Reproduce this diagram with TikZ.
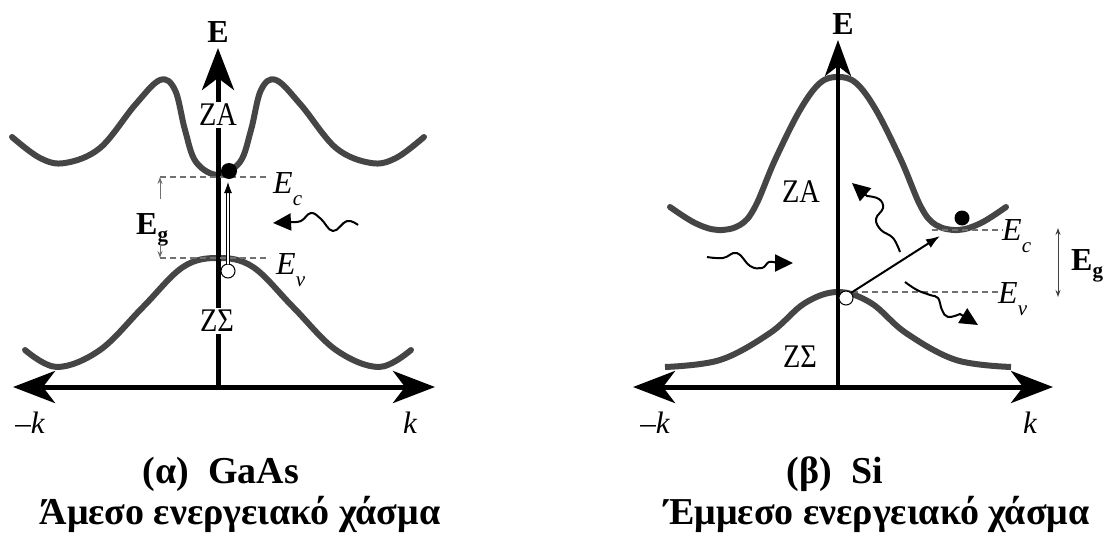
\documentclass[tikz,border=0pt]{standalone}
\usepackage{fontspec}
\setmainfont{Liberation Serif}
\newfontfamily\condserif{Liberation Serif}[FakeStretch=0.86]
\usetikzlibrary{arrows.meta}
\definecolor{bandgray}{HTML}{454545}
\definecolor{dashgray}{HTML}{707070}
\tikzset{
  bandline/.style={draw=bandgray, line width=6pt, line cap=round},
  axisline/.style={draw=black, line width=5pt},
  bigtip/.style={-{Stealth[length=42pt,width=32pt,inset=12pt]}},
  bothtips/.style={{Stealth[length=42pt,width=32pt,inset=12pt]}-{Stealth[length=42pt,width=32pt,inset=12pt]}},
  lbl/.style={inner sep=0pt, font=\fontsize{32}{38}\selectfont},
  zlbl/.style={inner sep=0pt, font=\condserif\fontsize{33}{38}\selectfont},
  wlbl/.style={zlbl, fill=white, inner sep=2pt},
  itlbl/.style={inner sep=0pt, font=\fontsize{32}{38}\selectfont\itshape},
  bflbl/.style={inner sep=0pt, font=\fontsize{32}{38}\selectfont\bfseries},
  captext/.style={inner sep=0pt, font=\fontsize{38}{44}\selectfont\bfseries},
  gapdash/.style={draw=dashgray, line width=1.3pt, dash pattern=on 6pt off 4pt},
  egarrow/.style={draw=dashgray, line width=1pt, -{Stealth[length=7pt,width=5pt]}},
  photon/.style={draw=black, line width=2pt, -{Triangle[length=18pt,width=17pt]}},
  transit/.style={draw=black, line width=2pt, -{Latex[length=14pt,width=10pt]}},
  electron/.style={circle, fill=black, inner sep=0pt, minimum size=16pt},
  hole/.style={circle, draw=black, fill=white, line width=1pt, inner sep=0pt, minimum size=14pt},
}
\newcommand{\subl}[1]{\raisebox{-0.4em}{\fontsize{21}{21}\selectfont #1}}
\newcommand{\subg}[1]{\raisebox{-0.22em}{\fontsize{21}{21}\selectfont #1}}
\begin{document}
\begin{tikzpicture}[x=1pt,y=-1pt]
\useasboundingbox (0,0) rectangle (1111,538);

% ================= LEFT PANEL (GaAs) =================
\coordinate (Lo) at (218,387);
\coordinate (Ltop) at (218,48);
\coordinate (Lkl) at (13,387);
\coordinate (Lkr) at (435,387);

% bands
\draw[bandline] plot[smooth, tension=0.6] coordinates {
 (12,137) (40,158) (65,163) (100,148) (135,105) (160,80) (175,90) (185,130)
 (196,162) (218,175) (240,162) (251,130) (261,90) (276,80) (301,105) (336,148)
 (371,163) (396,158) (424,137)};
\draw[bandline] plot[smooth, tension=0.6] coordinates {
 (25,350) (57,367) (100,350) (143,307) (183,267) (218,258) (253,267) (293,307)
 (336,350) (379,367) (411,350)};

% axes
\draw[axisline, bigtip] (Lo) -- (Ltop);
\draw[axisline, bothtips] (Lkl) -- (Lkr);

% labels on axis
\node[wlbl] (LZA) at (218,115) {ZA};
\node[wlbl] (LZS) at (217,321) {ZΣ};
\node[bflbl] (LE) at (218,32) {E};
\node[itlbl, font=\fontsize{31}{36}\selectfont\itshape] (Lmk) at (30,423) {–k};
\node[itlbl, font=\fontsize{31}{36}\selectfont\itshape] (Lk) at (410,423) {k};

% gap levels
\coordinate (LEcl) at (160,177);
\coordinate (LEcr) at (270,177);
\coordinate (LEvl) at (160,258);
\coordinate (LEvr) at (270,258);
\draw[gapdash] (LEcl) -- (LEcr);
\draw[gapdash] (LEvl) -- (LEvr);
\node[itlbl, anchor=base west] (LEc) at (273,193) {E\subl{c}};
\node[itlbl, anchor=base west] (LEv) at (276,274) {E\subl{v}};

% Eg
\node[bflbl, anchor=base west] (LEg) at (136,234) {E\subg{g}};
\coordinate (LEgt) at (160,199);
\coordinate (LEgb) at (160,244);
\draw[egarrow] (LEgt) -- (LEcl);
\draw[egarrow] (LEgb) -- (LEvl);

% carriers and transition
\node[electron] (Lel) at (229,171) {};
\node[hole] (Lho) at (228,271) {};
\coordinate (Ltrtop) at (228,182);
\draw[line width=0.9pt, double=white, double distance=2.2pt, -{Latex[length=11pt,width=8pt]}] (Lho.north) -- (Ltrtop);

% photon
\coordinate (Lph0) at (358,225);
\coordinate (Lph1) at (273,223);
\draw[photon] plot[smooth, tension=0.7] coordinates {(Lph0) (347,221) (333,231) (321,219) (311,213) (301,221) (291,222)} -- (Lph1);

% captions
\node[captext] (Lcap1) at (221,474) {(α)\ \ GaAs};
\node[captext] (Lcap2) at (240,514) {Άμεσο ενεργειακό χάσμα};

% ================= RIGHT PANEL (Si) =================
\coordinate (Ro) at (838,387);
\coordinate (Rtop) at (838,40);
\coordinate (Rkl) at (633,387);
\coordinate (Rkr) at (1053,387);

\draw[bandline] plot[smooth, tension=0.6] coordinates {
 (670,207) (695,223) (718,230) (740,225) (755,207) (775,160) (800,110) (820,83)
 (838,77) (856,83) (876,110) (901,160) (921,207) (936,225) (958,230) (981,223) (1006,207)};
\draw[bandline, line cap=butt] plot[smooth, tension=0.6] coordinates {
 (665,367) (720,360) (770,333) (805,303) (838,292) (871,303) (906,333) (956,360) (1011,367)};

\draw[draw=black, line width=4pt, -{Stealth[length=36pt,width=26pt,inset=10pt]}] (Ro) -- (Rtop);
\draw[axisline, bothtips] (Rkl) -- (Rkr);

\node[bflbl] (RE) at (843,24) {E};
\node[zlbl] (RZA) at (801,192) {ZA};
\node[zlbl] (RZS) at (800,357) {ZΣ};
\node[itlbl, font=\fontsize{31}{36}\selectfont\itshape] (Rmk) at (655,423) {–k};
\node[itlbl, font=\fontsize{31}{36}\selectfont\itshape] (Rk) at (1030,423) {k};

\coordinate (REcl) at (932,230);
\coordinate (REcr) at (1003,230);
\coordinate (REvl) at (852,292);
\coordinate (REvr) at (998,292);
\draw[gapdash, line width=1.1pt] (REcl) -- (REcr);
\draw[gapdash, line width=1.1pt] (REvl) -- (REvr);
\node[itlbl, anchor=base west] (REc) at (1002,240) {E\subl{c}};
\node[itlbl, anchor=base west] (REv) at (998,303) {E\subl{v}};

\coordinate (REgt) at (1058,228);
\coordinate (REgb) at (1058,297);
\draw[draw=black!75, line width=1pt, {Stealth[length=7pt,width=5pt]}-{Stealth[length=7pt,width=5pt]}] (REgt) -- (REgb);
\node[bflbl, anchor=base west] (REg) at (1071,270) {E\subg{g}};

\node[electron, minimum size=15pt] (Rel) at (962,218) {};
\node[hole] (Rho) at (846,298) {};
\coordinate (Rtr) at (940,236);
\draw[transit] (Rho.north east) -- (Rtr);

% photons
\coordinate (Rp1s) at (707,257);
\coordinate (Rp1e) at (793,263);
\draw[photon] plot[smooth, tension=0.7] coordinates {(Rp1s) (723,258) (737,253) (750,266) (762,268) (769,262) (777,263)} -- (Rp1e);

\coordinate (Rp2s) at (900,252);
\coordinate (Rp2e) at (852,183);
\draw[photon] plot[smooth, tension=0.7] coordinates {(Rp2s) (893,238) (881,230) (876,219) (883,208) (879,199) (867,196)} -- (Rp2e);

\coordinate (Rp3s) at (905,282);
\coordinate (Rp3e) at (978,325);
\draw[photon] plot[smooth, tension=0.7] coordinates {(Rp3s) (917,290) (930,295) (938,298) (942,310) (948,317) (960,314)} -- (Rp3e);

% captions
\node[captext] (Rcap1) at (835,474) {(β)\ \ Si};
\node[captext] (Rcap2) at (877,514) {Έμμεσο ενεργειακό χάσμα};
\end{tikzpicture}
\end{document}
